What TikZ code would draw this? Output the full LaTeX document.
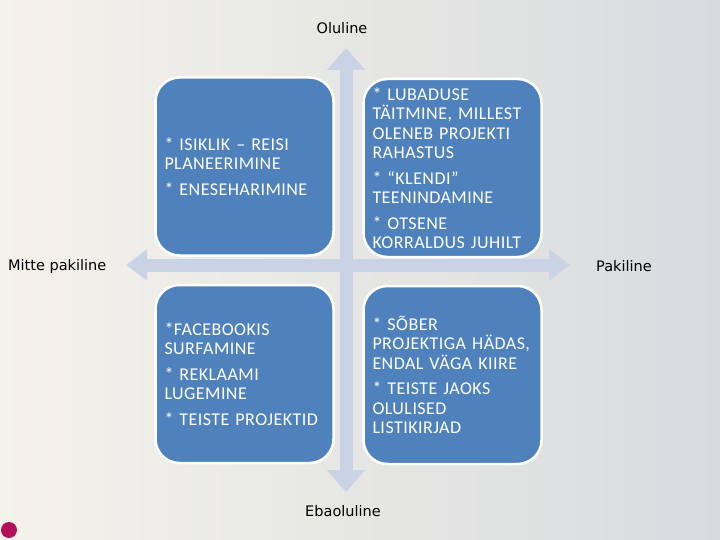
\documentclass[tikz,border=0pt]{standalone}
\usepackage{fontspec}
\setmainfont{Carlito}
\newfontfamily\boxfont[LetterSpace=2.5]{Carlito}
\newfontfamily\lblfont{DejaVu Sans}
\usepackage{xcolor}
\usepackage{tikz}
\usetikzlibrary{arrows.meta,positioning}
\hyphenpenalty=10000
\exhyphenpenalty=10000

\definecolor{quadblue}{HTML}{4F81BD}
\definecolor{axisblue}{HTML}{CAD3E5}
\definecolor{dotred}{HTML}{B2105C}
\definecolor{bgleft}{HTML}{F4F2EA}
\definecolor{bgright}{HTML}{D8DBDE}

\begin{document}
\begin{tikzpicture}[
  x=1pt,y=-1pt,
  every node/.style={font=\boxfont\fontsize{18}{19.5}\selectfont},
  quad/.style={draw=white,line width=2.5pt,fill=quadblue,rounded corners=24pt,
               minimum width=176pt,minimum height=178pt,text width=160pt,
               inner xsep=9pt,align=left,text=white},
  axislbl/.style={font=\lblfont\fontsize{14.5}{16}\selectfont,text=black,inner sep=0pt},
  axis/.style={draw=axisblue,line width=13pt},
]
\useasboundingbox[left color=bgleft,right color=bgright]
  (0,0) rectangle (720,540);
\fill[dotred] (9,530) circle (8);

\coordinate (ntip) at (346,48);
\coordinate (stip) at (346,492);
\coordinate (wtip) at (126,265);
\coordinate (etip) at (570,265);
\draw[axis,{Triangle[width=37pt,length=22pt]}-{Triangle[width=37pt,length=22pt]}] (ntip) -- (stip);
\draw[axis,{Triangle[width=30pt,length=21pt]}-{Triangle[width=30pt,length=21pt]}] (wtip) -- (etip);

\node[axislbl] (oluline) at (342,28) {Oluline};
\node[axislbl] (ebaoluline) at (343,511) {Ebaoluline};
\node[axislbl,anchor=west] (mitte) at (8,266) {Mitte pakiline};
\node[axislbl,anchor=west] (pakiline) at (596,266) {Pakiline};

\node[quad] (tl) at (244.5,166.5) {* ISIKLIK – REISI\\PLANEERIMINE\\[6pt]* ENESEHARIMINE};
\node[quad] (tr) at (452.5,168) {* LUBADUSE\\TÄITMINE, MILLEST\\OLENEB PROJEKTI\\RAHASTUS\\[6pt]* “KLENDI”\\TEENINDAMINE\\[6pt]* OTSENE\\KORRALDUS JUHILT};
\node[quad] (bl) at (244.5,374) {*FACEBOOKIS\\SURFAMINE\\[6pt]* REKLAAMI\\LUGEMINE\\[6pt]* TEISTE PROJEKTID};
\node[quad] (br) at (452.5,375) {* SÕBER\\PROJEKTIGA HÄDAS,\\ENDAL VÄGA KIIRE\\[6pt]* TEISTE JAOKS\\OLULISED\\LISTIKIRJAD};
\end{tikzpicture}
\end{document}
